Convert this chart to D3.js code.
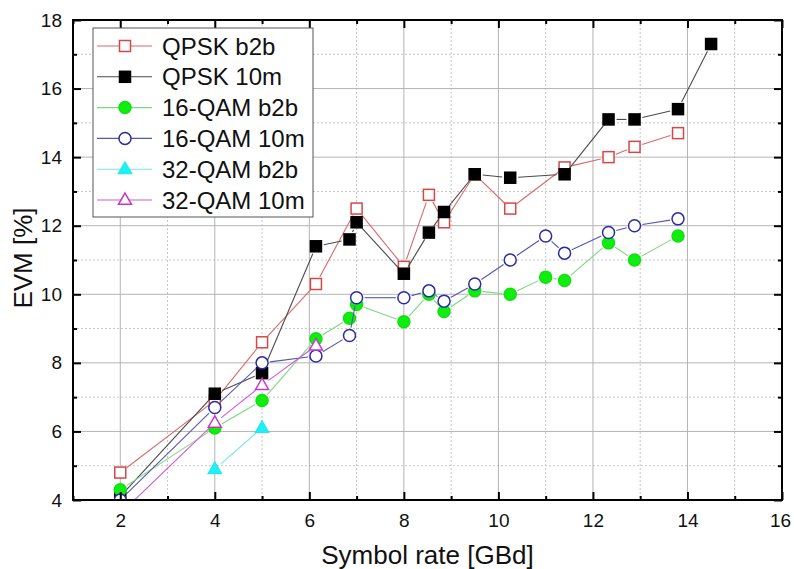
<!DOCTYPE html>
<html>
<head>
<meta charset="utf-8">
<script src="https://cdn.jsdelivr.net/npm/d3@7"></script>
<style>
  body { margin: 0; background: #fff; }
  svg text { font-family: "Liberation Sans", Arial, sans-serif; fill: #111; }
</style>
</head>
<body>
<div id="chart"></div>
<script>
// EVM vs symbol rate

// series data
var rateQpskB2b = [2, 4, 5, 6.14, 7, 8, 8.53, 8.85, 9.5, 10.25, 11.4, 12.33, 12.88, 13.8];
var evmQpskB2b  = [4.8, 6.9, 8.6, 10.3, 12.5, 10.8, 12.9, 12.1, 13.5, 12.5, 13.7, 14.0, 14.3, 14.7];

var rateQpsk10m = [2, 4, 5, 6.14, 6.85, 7, 8, 8.53, 8.85, 9.5, 10.25, 11.4, 12.33, 12.88, 13.8, 14.5];
var evmQpsk10m  = [4.1, 7.1, 7.7, 11.4, 11.6, 12.1, 10.6, 11.8, 12.4, 13.5, 13.4, 13.5, 15.1, 15.1, 15.4, 17.3];

var rate16B2b = [2, 4, 5, 6.14, 6.85, 7, 8, 8.53, 8.85, 9.5, 10.25, 11, 11.4, 12.33, 12.88, 13.8];
var evm16B2b  = [4.3, 6.1, 6.9, 8.7, 9.3, 9.7, 9.2, 10.0, 9.5, 10.1, 10.0, 10.5, 10.4, 11.5, 11.0, 11.7];

var rate1610m = [2, 4, 5, 6.14, 6.85, 7, 8, 8.53, 8.85, 9.5, 10.25, 11, 11.4, 12.33, 12.88, 13.8];
var evm1610m  = [4.0, 6.7, 8.0, 8.2, 8.8, 9.9, 9.9, 10.1, 9.8, 10.3, 11.0, 11.7, 11.2, 11.8, 12.0, 12.2];

var rate32B2b = [4, 5];
var evm32B2b  = [4.9, 6.1];

var rate3210m = [2, 4, 5, 6.14];
var evm3210m  = [3.6, 6.25, 7.35, 8.5];

var seriesNames = ["QPSK b2b", "QPSK 10m", "16-QAM b2b", "16-QAM 10m", "32-QAM b2b", "32-QAM 10m"];

var xTicks = [2, 4, 6, 8, 10, 12, 14, 16];
var yTicks = [4, 6, 8, 10, 12, 14, 16, 18];

// look of each series
var styles = [
  { shape: "square",   stroke: "#d64848", fill: "#fff",    line: "#d86a6a" },
  { shape: "square",   stroke: "#000",    fill: "#000",    line: "#4a4a4a" },
  { shape: "circle",   stroke: "#10e010", fill: "#10ee10", line: "#7ed87e" },
  { shape: "circle",   stroke: "#2b2ba6", fill: "#fff",    line: "#5656b4" },
  { shape: "triangle", stroke: "#20eaf0", fill: "#20f0f4", line: "#78e2ea" },
  { shape: "triangle", stroke: "#c838c8", fill: "#fff",    line: "#d25ad2" }
];

var series = [
  [rateQpskB2b, evmQpskB2b],
  [rateQpsk10m, evmQpsk10m],
  [rate16B2b, evm16B2b],
  [rate1610m, evm1610m],
  [rate32B2b, evm32B2b],
  [rate3210m, evm3210m]
].map(function(p, i) {
  return {
    name: seriesNames[i],
    style: styles[i],
    points: p[0].map(function(x, j) { return { x: x, y: p[1][j] }; })
  };
});

var width = 794, height = 569;
var margin = { top: 20, right: 12, bottom: 69, left: 73 };
var w = width - margin.left - margin.right;
var h = height - margin.top - margin.bottom;

var svg = d3.select("#chart").append("svg")
  .attr("width", width)
  .attr("height", height);

var g = svg.append("g").attr("transform", "translate(" + margin.left + "," + margin.top + ")");

var x = d3.scaleLinear().domain([1, 16]).range([0, w]);
var y = d3.scaleLinear().domain([4, 18]).range([h, 0]);

var minorX = d3.range(1, 16.5, 1).filter(function(v) { return v % 2 === 1; });
var minorY = d3.range(5, 18, 2);

// grid: dotted minor, solid major
g.append("g").selectAll("line.minx").data(minorX).enter().append("line")
  .attr("x1", d => x(d)).attr("x2", d => x(d)).attr("y1", 0).attr("y2", h)
  .attr("stroke", "#c6c6c6").attr("stroke-dasharray", "2,2");
g.append("g").selectAll("line.miny").data(minorY).enter().append("line")
  .attr("y1", d => y(d)).attr("y2", d => y(d)).attr("x1", 0).attr("x2", w)
  .attr("stroke", "#c6c6c6").attr("stroke-dasharray", "2,2");
g.append("g").selectAll("line.majx").data(xTicks).enter().append("line")
  .attr("x1", d => x(d)).attr("x2", d => x(d)).attr("y1", 0).attr("y2", h)
  .attr("stroke", "#b4b4b4");
g.append("g").selectAll("line.majy").data(yTicks).enter().append("line")
  .attr("y1", d => y(d)).attr("y2", d => y(d)).attr("x1", 0).attr("x2", w)
  .attr("stroke", "#b4b4b4");

// clip for the data
svg.append("defs").append("clipPath").attr("id", "plotclip")
  .append("rect").attr("x", 0).attr("y", 0).attr("width", w).attr("height", h);

var plot = g.append("g").attr("clip-path", "url(#plotclip)");

var msize = 11;

function drawMarker(sel, st, cx, cy) {
  var m;
  if (st.shape === "square") {
    m = sel.append("rect")
      .attr("x", cx - msize / 2).attr("y", cy - msize / 2)
      .attr("width", msize).attr("height", msize);
  } else if (st.shape === "circle") {
    m = sel.append("circle").attr("cx", cx).attr("cy", cy).attr("r", msize / 2 + 0.5);
  } else {
    var s = msize + 2;
    var hh = s * 0.866;
    m = sel.append("path")
      .attr("d", "M" + cx + "," + (cy - hh * 0.62) +
        "L" + (cx + s / 2) + "," + (cy + hh * 0.38) +
        "L" + (cx - s / 2) + "," + (cy + hh * 0.38) + "Z");
  }
  m.attr("fill", st.fill).attr("stroke", st.stroke).attr("stroke-width", 1.5);
  return m;
}

// segments stop short of the markers
var gap = msize / 2 + 2.5;
function segment(sel, st, p, q) {
  var dx = q[0] - p[0], dy = q[1] - p[1];
  var len = Math.sqrt(dx * dx + dy * dy);
  if (len <= 2 * gap) return;
  var ux = dx / len, uy = dy / len;
  sel.append("line")
    .attr("x1", p[0] + ux * gap).attr("y1", p[1] + uy * gap)
    .attr("x2", q[0] - ux * gap).attr("y2", q[1] - uy * gap)
    .attr("stroke", st.line).attr("stroke-width", 1.1);
}

series.forEach(function(s) {
  var sg = plot.append("g");
  var pts = s.points.map(function(d) { return [x(d.x), y(d.y)]; });
  for (var i = 0; i < pts.length - 1; i++) segment(sg, s.style, pts[i], pts[i + 1]);
  pts.forEach(function(p) { drawMarker(sg, s.style, p[0], p[1]); });
});

// axes, ticks pointing inwards
function styleAxis(a) {
  a.select(".domain").remove();
  a.selectAll(".tick line").attr("stroke", "#000").attr("stroke-width", 2);
}

var xb = g.append("g").attr("transform", "translate(0," + h + ")")
  .call(d3.axisBottom(x).tickValues(xTicks).tickSize(-8).tickPadding(14).tickFormat(d3.format("d")));
styleAxis(xb);
xb.selectAll("text").attr("font-size", 19).attr("fill", "#111");
xb.selectAll(".tick").filter(d => d === 16).select("text").attr("dx", -2);

var xbm = g.append("g").attr("transform", "translate(0," + h + ")")
  .call(d3.axisBottom(x).tickValues(minorX).tickSize(-4).tickFormat(""));
styleAxis(xbm);

var xt = g.append("g")
  .call(d3.axisTop(x).tickValues(xTicks).tickSize(-8).tickFormat(""));
styleAxis(xt);
var xtm = g.append("g")
  .call(d3.axisTop(x).tickValues(minorX).tickSize(-4).tickFormat(""));
styleAxis(xtm);

var yl = g.append("g")
  .call(d3.axisLeft(y).tickValues(yTicks).tickSize(-8).tickPadding(11).tickFormat(d3.format("d")));
styleAxis(yl);
yl.selectAll("text").attr("font-size", 19).attr("fill", "#111");

var ylm = g.append("g")
  .call(d3.axisLeft(y).tickValues(minorY).tickSize(-4).tickFormat(""));
styleAxis(ylm);

var yr = g.append("g").attr("transform", "translate(" + w + ",0)")
  .call(d3.axisRight(y).tickValues(yTicks).tickSize(-8).tickFormat(""));
styleAxis(yr);
var yrm = g.append("g").attr("transform", "translate(" + w + ",0)")
  .call(d3.axisRight(y).tickValues(minorY).tickSize(-4).tickFormat(""));
styleAxis(yrm);

// frame
g.append("rect").attr("x", 0).attr("y", 0).attr("width", w).attr("height", h)
  .attr("fill", "none").attr("stroke", "#000").attr("stroke-width", 2);

// axis titles
svg.append("text")
  .attr("x", margin.left + x(8.5)).attr("y", 564)
  .attr("text-anchor", "middle").attr("font-size", 26)
  .text("Symbol rate [GBd]");

svg.append("text")
  .attr("transform", "translate(32,258) rotate(-90)")
  .attr("text-anchor", "middle").attr("font-size", 26)
  .text("EVM [%]");

// legend
var lg = svg.append("g").attr("transform", "translate(93,28)");
lg.append("rect").attr("width", 220).attr("height", 189)
  .attr("fill", "#fff").attr("stroke", "#555").attr("stroke-width", 1);

series.forEach(function(s, i) {
  var cy = 18 + i * 30.8;
  lg.append("line").attr("x1", 4).attr("x2", 59).attr("y1", cy).attr("y2", cy)
    .attr("stroke", s.style.line).attr("stroke-width", 1.1);
  drawMarker(lg, s.style, 32, cy);
  lg.append("text").attr("x", 69).attr("y", cy + 8.5)
    .attr("font-size", 24).text(s.name);
});
</script>
</body>
</html>
